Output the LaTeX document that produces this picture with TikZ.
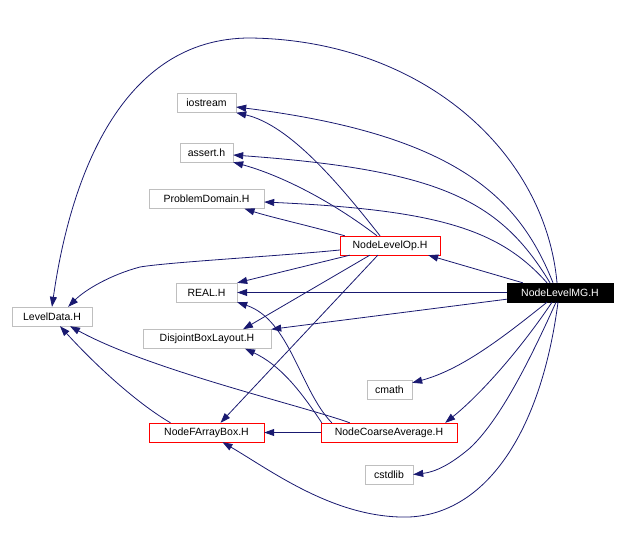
\documentclass[tikz,border=0pt]{standalone}
\usepackage{fontspec}
\setmainfont{Liberation Sans}
\usetikzlibrary{arrows.meta,positioning}
\definecolor{szurke}{RGB}{191,191,191}
\definecolor{kek}{RGB}{25,25,112}
\tikzset{
  fajl/.style={draw=szurke,fill=white,minimum height=19pt,inner sep=0pt,font=\fontsize{10.5}{12}\selectfont},
  piros/.style={fajl,draw=red},
  fo/.style={fajl,draw=black,fill=black,text=white},
  el/.style={draw=kek,line width=0.8pt,-{Triangle[length=10pt,width=7pt]}},
}
\begin{document}
\begin{tikzpicture}[x=1pt,y=-1pt]
  \useasboundingbox (0,0) rectangle (626,537);
  % fajlok
  \node[fajl,minimum width=59pt] (io) at (206.5,103) {iostream};
  \node[fajl,minimum width=53pt] (as) at (206.5,152.5) {assert.h};
  \node[fajl,minimum width=115pt] (pd) at (206.5,199) {ProblemDomain.H};
  \node[piros,minimum width=100pt] (nlo) at (390,245.5) {NodeLevelOp.H};
  \node[fajl,minimum width=61pt] (re) at (206.5,292.5) {REAL.H};
  \node[fajl,minimum width=80pt] (ld) at (52,316.5) {LevelData.H};
  \node[fajl,minimum width=128pt] (dbl) at (207,339) {DisjointBoxLayout.H};
  \node[fo,minimum width=106pt] (mg) at (560,292.5) {NodeLevelMG.H};
  \node[fajl,minimum width=45pt] (cm) at (389.5,389.5) {cmath};
  \node[piros,minimum width=115pt] (nfb) at (206.5,432.5) {NodeFArrayBox.H};
  \node[piros,minimum width=136pt] (nca) at (389,432.5) {NodeCoarseAverage.H};
  \node[fajl,minimum width=48pt] (cs) at (389,474.5) {cstdlib};
  % NodeLevelMG.H
  \draw[el] ([xshift=-3pt]mg.north) .. controls (545,150) and (420,40) .. (250,38) .. controls (120,38) and (70,180) .. (ld.north);
  \draw[el] ([xshift=-7pt]mg.north) .. controls (520,200) and (460,135) .. ([yshift=-4pt]io.east);
  \draw[el] ([xshift=-10pt]mg.north) .. controls (500,200) and (440,170) .. ([yshift=-2.5pt]as.east);
  \draw[el] ([xshift=-13pt]mg.north) .. controls (500,230) and (440,210) .. ([yshift=-3pt]pd.east);
  \draw[el] ([xshift=16pt]mg.north west) -- ([xshift=-12pt]nlo.south east);
  \draw[el] (mg.west) -- (re.east);
  \draw[el] ([yshift=3pt]mg.south west) -- (dbl.north east);
  \draw[el] ([xshift=-13pt]mg.south) .. controls (500,340) and (460,370) .. ([yshift=-3pt]cm.north east);
  \draw[el] ([xshift=-8pt]mg.south) .. controls (520,350) and (480,395) .. ([xshift=-12pt]nca.north east);
  \draw[el] ([xshift=-4pt]mg.south) .. controls (530,360) and (500,420) .. (470,448) .. controls (450,465) and (435,472) .. (cs.east);
  \draw[el] ([xshift=-2pt]mg.south) .. controls (540,440) and (480,520) .. (400,517) .. controls (330,515) and (270,470) .. ([xshift=16pt]nfb.south);
  % NodeLevelOp.H
  \draw[el] ([xshift=-10pt]nlo.north) .. controls (340,185) and (290,125) .. (io.south east);
  \draw[el] ([xshift=-13pt]nlo.north) .. controls (330,200) and (280,175) .. (as.south east);
  \draw[el] ([xshift=5pt]nlo.north west) .. controls (310,226) and (270,217) .. ([xshift=38pt]pd.south);
  \draw[el] ([yshift=-4.5pt]nlo.west) .. controls (280,256) and (170,262) .. (140,267) .. controls (110,275) and (85,290) .. ([xshift=-24pt]ld.north east);
  \draw[el] ([xshift=10pt]nlo.south west) -- (re.north east);
  \draw[el] ([xshift=30pt]nlo.south west) -- ([xshift=36pt]dbl.north);
  \draw[el] ([xshift=38pt]nlo.south west) -- ([xshift=14pt]nfb.north);
  % NodeCoarseAverage.H
  \draw[el] (nca.west) -- (nfb.east);
  \draw[el] ([xshift=29pt]nca.north west) .. controls (300,405) and (150,370) .. ([xshift=18pt]ld.south);
  \draw[el] ([xshift=11pt]nca.north west) .. controls (300,390) and (290,320) .. (re.south east);
  \draw[el] ([xshift=1pt]nca.north west) .. controls (300,390) and (280,365) .. ([xshift=38pt]dbl.south);
  % NodeFArrayBox.H
  \draw[el] ([xshift=-36pt]nfb.north) .. controls (140,405) and (100,370) .. ([xshift=8pt]ld.south);
\end{tikzpicture}
\end{document}
